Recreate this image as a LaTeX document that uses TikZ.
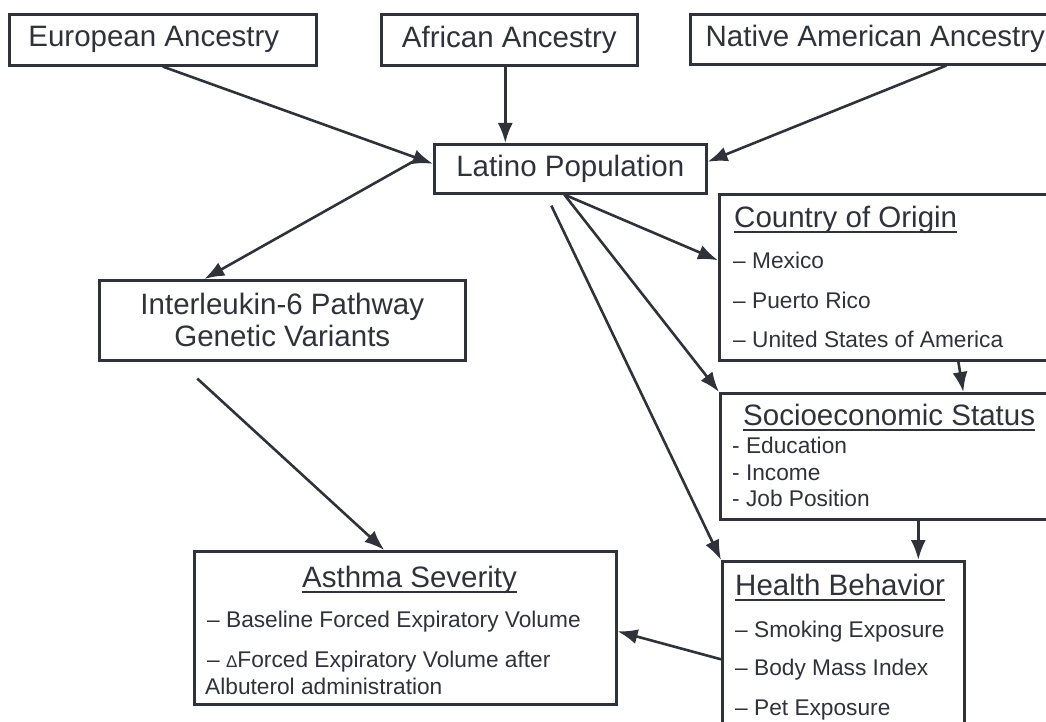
\documentclass[tikz,border=0pt]{standalone}
\usepackage{fontspec}
\setmainfont{Liberation Sans}
\usepackage{tikz}
\usetikzlibrary{arrows.meta,positioning}
\definecolor{ink}{RGB}{48,50,58}
\newcommand\headfont{\fontsize{29.5}{32}\selectfont}
\newcommand\itemfont{\fontsize{22.7}{27}\selectfont}
\newcommand\headul[1]{\setbox0\hbox{#1}\rlap{\rule[-5.5pt]{\wd0}{2pt}}\box0}
\tikzset{
  box/.style={draw=ink, line width=2.6pt, anchor=north west, inner sep=0pt, text=ink, font=\headfont, align=center},
  head/.style={anchor=base west, inner sep=0pt, text=ink, font=\headfont},
  item/.style={anchor=base west, inner sep=0pt, text=ink, font=\itemfont},
  link/.style={draw=ink, line width=2.6pt, -{Latex[length=20pt,width=15pt]}}
}
\begin{document}
\begin{tikzpicture}[x=1pt,y=-1pt]
	\useasboundingbox (0,0) rectangle (1046,722);
	\node[box, minimum width=307pt, minimum height=51pt] (eur) at (8,13) {European Ancestry\hspace*{18pt}};
	\node[box, minimum width=256pt, minimum height=51pt] (afr) at (380,13) {African Ancestry};
	\node[box, minimum width=370pt, minimum height=50pt] (nat) at (689,13) {Native American Ancestry};
	\node[box, minimum width=272pt, minimum height=49pt] (lat) at (433,143) {Latino Population};
	\node[box, minimum width=366pt, minimum height=80pt] (il6) at (98,279) {Interleukin-6 Pathway\\Genetic Variants};
	\node[box, minimum width=342pt, minimum height=166pt] (coo) at (718,193) {};
	\node[box, minimum width=340pt, minimum height=126pt] (ses) at (719,392) {};
	\node[box, minimum width=422pt, minimum height=153pt] (asth) at (193,550) {};
	\node[box, minimum width=242pt, minimum height=185pt] (hb) at (721,560) {};

	\node[head] (cooh) at (734,227) {\headul{Country of Origin}};
	\node[item] (coo1) at (733,268) {– Mexico};
	\node[item] (coo2) at (733,308) {– Puerto Rico};
	\node[item] (coo3) at (733,347) {– United States of America};

	\node[head] (sesh) at (743,425) {\headul{Socioeconomic Status}};
	\node[item] (ses1) at (732,453) {- Education};
	\node[item] (ses2) at (732,480) {- Income};
	\node[item] (ses3) at (732,506) {- Job Position};

	\node[head] (hbh) at (735,595) {\headul{Health Behavior}};
	\node[item] (hb1) at (735,637) {– Smoking Exposure};
	\node[item] (hb2) at (735,675) {– Body Mass Index};
	\node[item] (hb3) at (735,715) {– Pet Exposure};

	\node[head] (asthh) at (302,587) {\headul{Asthma Severity}};
	\node[item] (asth1) at (207,627) {– Baseline Forced Expiratory Volume};
	\node[item] (asth2) at (207,667) {– {\fontsize{17}{20}\selectfont Δ}Forced Expiratory Volume after};
	\node[item] (asth3) at (205,694) {Albuterol administration};

	\draw[link] (eur.south) -- ([yshift=5pt]lat.west);
	\draw[link] ([xshift=-4pt]afr.south) -- ([xshift=-4pt]afr.south |- lat.north);
	\draw[link] ([xshift=71pt]nat.south) -- ([yshift=7pt]lat.east);
	\draw[link] ([xshift=-15pt,yshift=10pt]lat.west) -- ([xshift=-78pt]il6.north);
	\draw[link] ([xshift=-6pt]lat.south) -- ([yshift=17pt]coo.west);
	\draw[link] ([xshift=-6pt]lat.south) -- (ses.north west);
	\draw[link] ([xshift=-19pt,yshift=-11pt]lat.south) -- (hb.north west);
	\draw[link] ([xshift=-85pt,yshift=-17pt]il6.south) -- ([xshift=-21pt]asth.north);
	\draw[link] ([xshift=68pt]coo.south) -- ([xshift=73pt]ses.north);
	\draw[link] ([xshift=28pt]ses.south) -- ([xshift=28pt]ses.south |- hb.north);
	\draw[link] ([yshift=-5.5pt]hb.west) -- ([yshift=-3.5pt]asth.east);
\end{tikzpicture}
\end{document}
